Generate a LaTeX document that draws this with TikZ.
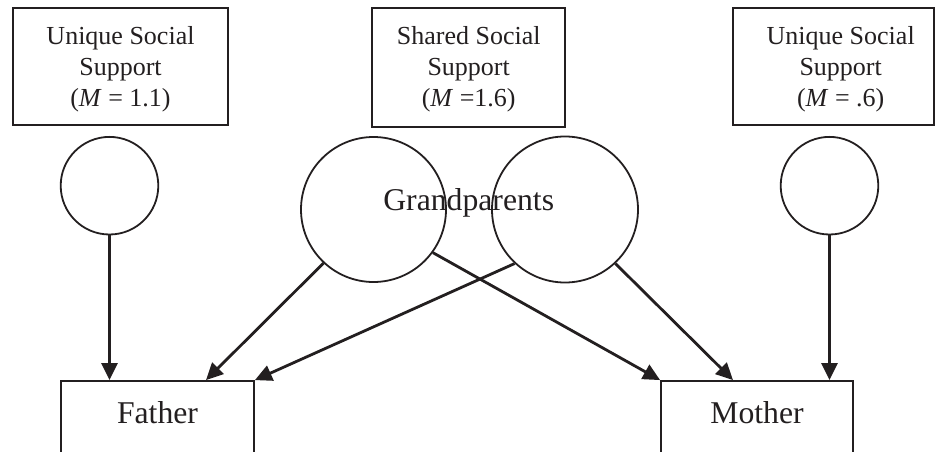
\documentclass[tikz,border=0pt]{standalone}
\usepackage{fontspec}
\setmainfont{Liberation Serif}
\usetikzlibrary{arrows.meta}
\definecolor{ink}{HTML}{231F20}
\begin{document}
\begin{tikzpicture}[x=1pt,y=-1pt,
  every node/.style={text=ink},
  box/.style={draw=ink, line width=1.8pt, inner sep=0pt},
  circ/.style={draw=ink, circle, line width=1.8pt, inner sep=0pt},
  lbl/.style={font=\fontsize{26}{31}\selectfont, align=center, inner sep=0pt},
  big/.style={font=\fontsize{31.7}{38}\selectfont, inner sep=0pt},
  arr/.style={draw=ink, line width=2.8pt, -{Triangle[length=17pt,width=16pt]}}]
\useasboundingbox (0,0) rectangle (935,452);
\clip (0,0) rectangle (935,452);
% top boxes
\node[box, minimum width=215pt, minimum height=117pt] (lbox) at (120.5,66.5) {};
\node[lbl] (ltext) at (120.5,69.2) {Unique Social\\Support\\(\textit{M} = 1.1)};
\node[box, minimum width=193pt, minimum height=119pt] (mbox) at (468.5,67.5) {};
\node[lbl] (mtext) at (468.7,69.2) {Shared Social\\Support\\(\textit{M} =1.6)};
\node[box, minimum width=201pt, minimum height=117pt] (rbox) at (833.5,66.5) {};
\node[lbl] (rtext) at (840.7,69.2) {Unique Social\\Support\\(\textit{M} = .6)};
% circles
\node[circ, minimum size=97.6pt] (ls) at (109.5,185.7) {};
\node[circ, minimum size=97.6pt] (rs) at (829.5,185.7) {};
\node[circ, minimum size=145pt] (gl) at (373.5,209.5) {};
\node[circ, minimum size=146pt] (gr) at (565,209.5) {};
\node[big, anchor=base] (gtext) at (468.7,210) {Grandparents};
% bottom boxes
\node[box, minimum width=193pt, minimum height=100pt] (father) at (157.5,431) {};
\node[box, minimum width=192pt, minimum height=100pt] (mother) at (757,431) {};
\node[big, anchor=base] (ftext) at (157.5,423) {Father};
\node[big, anchor=base] (mtext2) at (757,423) {Mother};
% arrows
\draw[arr] (ls) -- (ls |- father.north);
\draw[arr] (gl.227) -- ([xshift=48.5pt]father.north);
\draw[arr] (gr.227) -- (father.north east);
\draw[arr] (gl.324) -- (mother.north west);
\draw[arr] (gr.313) -- ([xshift=-24pt]mother.north);
\draw[arr] (rs) -- (rs |- mother.north);
\end{tikzpicture}
\end{document}
